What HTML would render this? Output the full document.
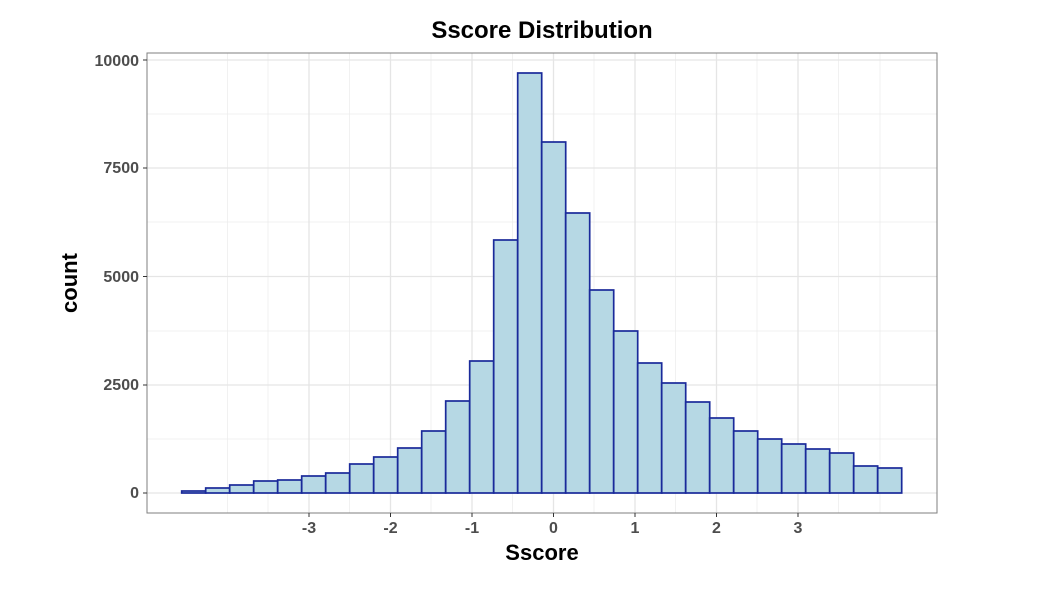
<!DOCTYPE html>
<html><head><style>body{margin:0;background:#fff}</style></head><body>
<svg width="1060" height="602" xmlns="http://www.w3.org/2000/svg" font-family="Liberation Sans, sans-serif">
<rect width="1060" height="602" fill="#fff"/>
<g stroke="#ebebeb" stroke-width="0.7">
<line x1="147" x2="937" y1="439" y2="439"/><line x1="147" x2="937" y1="331" y2="331"/><line x1="147" x2="937" y1="222" y2="222"/><line x1="147" x2="937" y1="114" y2="114"/>
<line y1="53" y2="513" x1="227.5" x2="227.5"/><line y1="53" y2="513" x1="268" x2="268"/><line y1="53" y2="513" x1="349.5" x2="349.5"/><line y1="53" y2="513" x1="431" x2="431"/><line y1="53" y2="513" x1="512.5" x2="512.5"/><line y1="53" y2="513" x1="594" x2="594"/><line y1="53" y2="513" x1="675.5" x2="675.5"/><line y1="53" y2="513" x1="757" x2="757"/><line y1="53" y2="513" x1="838.5" x2="838.5"/><line y1="53" y2="513" x1="880" x2="880"/>
</g>
<g stroke="#e5e5e5" stroke-width="1.3">
<line x1="147" x2="937" y1="493" y2="493"/><line x1="147" x2="937" y1="385" y2="385"/><line x1="147" x2="937" y1="276.5" y2="276.5"/><line x1="147" x2="937" y1="168" y2="168"/><line x1="147" x2="937" y1="60" y2="60"/>
<line y1="53" y2="513" x1="309" x2="309"/><line y1="53" y2="513" x1="390.5" x2="390.5"/><line y1="53" y2="513" x1="472" x2="472"/><line y1="53" y2="513" x1="553.5" x2="553.5"/><line y1="53" y2="513" x1="635" x2="635"/><line y1="53" y2="513" x1="716.5" x2="716.5"/><line y1="53" y2="513" x1="798" x2="798"/>
</g>
<g fill="#b6d8e4" stroke="#1a2a9a" stroke-width="1.7">
<rect x="181.7" y="491" width="24" height="2"/>
<rect x="205.7" y="488" width="24" height="5"/>
<rect x="229.7" y="485" width="24" height="8"/>
<rect x="253.7" y="481" width="24" height="12"/>
<rect x="277.7" y="480" width="24" height="13"/>
<rect x="301.7" y="476" width="24" height="17"/>
<rect x="325.7" y="473" width="24" height="20"/>
<rect x="349.7" y="464" width="24" height="29"/>
<rect x="373.7" y="457" width="24" height="36"/>
<rect x="397.7" y="448" width="24" height="45"/>
<rect x="421.7" y="431" width="24" height="62"/>
<rect x="445.7" y="401" width="24" height="92"/>
<rect x="469.7" y="361" width="24" height="132"/>
<rect x="493.7" y="240" width="24" height="253"/>
<rect x="517.7" y="73" width="24" height="420"/>
<rect x="541.7" y="142" width="24" height="351"/>
<rect x="565.7" y="213" width="24" height="280"/>
<rect x="589.7" y="290" width="24" height="203"/>
<rect x="613.7" y="331" width="24" height="162"/>
<rect x="637.7" y="363" width="24" height="130"/>
<rect x="661.7" y="383" width="24" height="110"/>
<rect x="685.7" y="402" width="24" height="91"/>
<rect x="709.7" y="418" width="24" height="75"/>
<rect x="733.7" y="431" width="24" height="62"/>
<rect x="757.7" y="439" width="24" height="54"/>
<rect x="781.7" y="444" width="24" height="49"/>
<rect x="805.7" y="449" width="24" height="44"/>
<rect x="829.7" y="453" width="24" height="40"/>
<rect x="853.7" y="466" width="24" height="27"/>
<rect x="877.7" y="468" width="24" height="25"/>
</g>
<rect x="147" y="53" width="790" height="460" fill="none" stroke="#7f7f7f" stroke-width="1"/>
<g stroke="#333" stroke-width="1">
<line x1="143" x2="147" y1="493" y2="493"/><line x1="143" x2="147" y1="385" y2="385"/><line x1="143" x2="147" y1="276.5" y2="276.5"/><line x1="143" x2="147" y1="168" y2="168"/><line x1="143" x2="147" y1="60" y2="60"/>
<line y1="513" y2="517" x1="309" x2="309"/><line y1="513" y2="517" x1="390.5" x2="390.5"/><line y1="513" y2="517" x1="472" x2="472"/><line y1="513" y2="517" x1="553.5" x2="553.5"/><line y1="513" y2="517" x1="635" x2="635"/><line y1="513" y2="517" x1="716.5" x2="716.5"/><line y1="513" y2="517" x1="798" x2="798"/>
</g>
<g font-size="16" font-weight="bold" fill="#4d4d4d" text-anchor="end">
<text x="139" y="498">0</text><text x="139" y="390">2500</text><text x="139" y="282">5000</text><text x="139" y="173">7500</text><text x="139" y="66">10000</text>
</g>
<g font-size="16" font-weight="bold" fill="#4d4d4d" text-anchor="middle">
<text x="309" y="533">-3</text><text x="390.5" y="533">-2</text><text x="472" y="533">-1</text><text x="553.5" y="533">0</text><text x="635" y="533">1</text><text x="716.5" y="533">2</text><text x="798" y="533">3</text>
</g>
<text x="542" y="560" font-size="22" font-weight="bold" text-anchor="middle">Sscore</text>
<text x="0" y="0" font-size="22" font-weight="bold" text-anchor="middle" transform="translate(77,283) rotate(-90)">count</text>
<text x="542" y="38" font-size="24" font-weight="bold" text-anchor="middle">Sscore Distribution</text>
</svg>
</body></html>
